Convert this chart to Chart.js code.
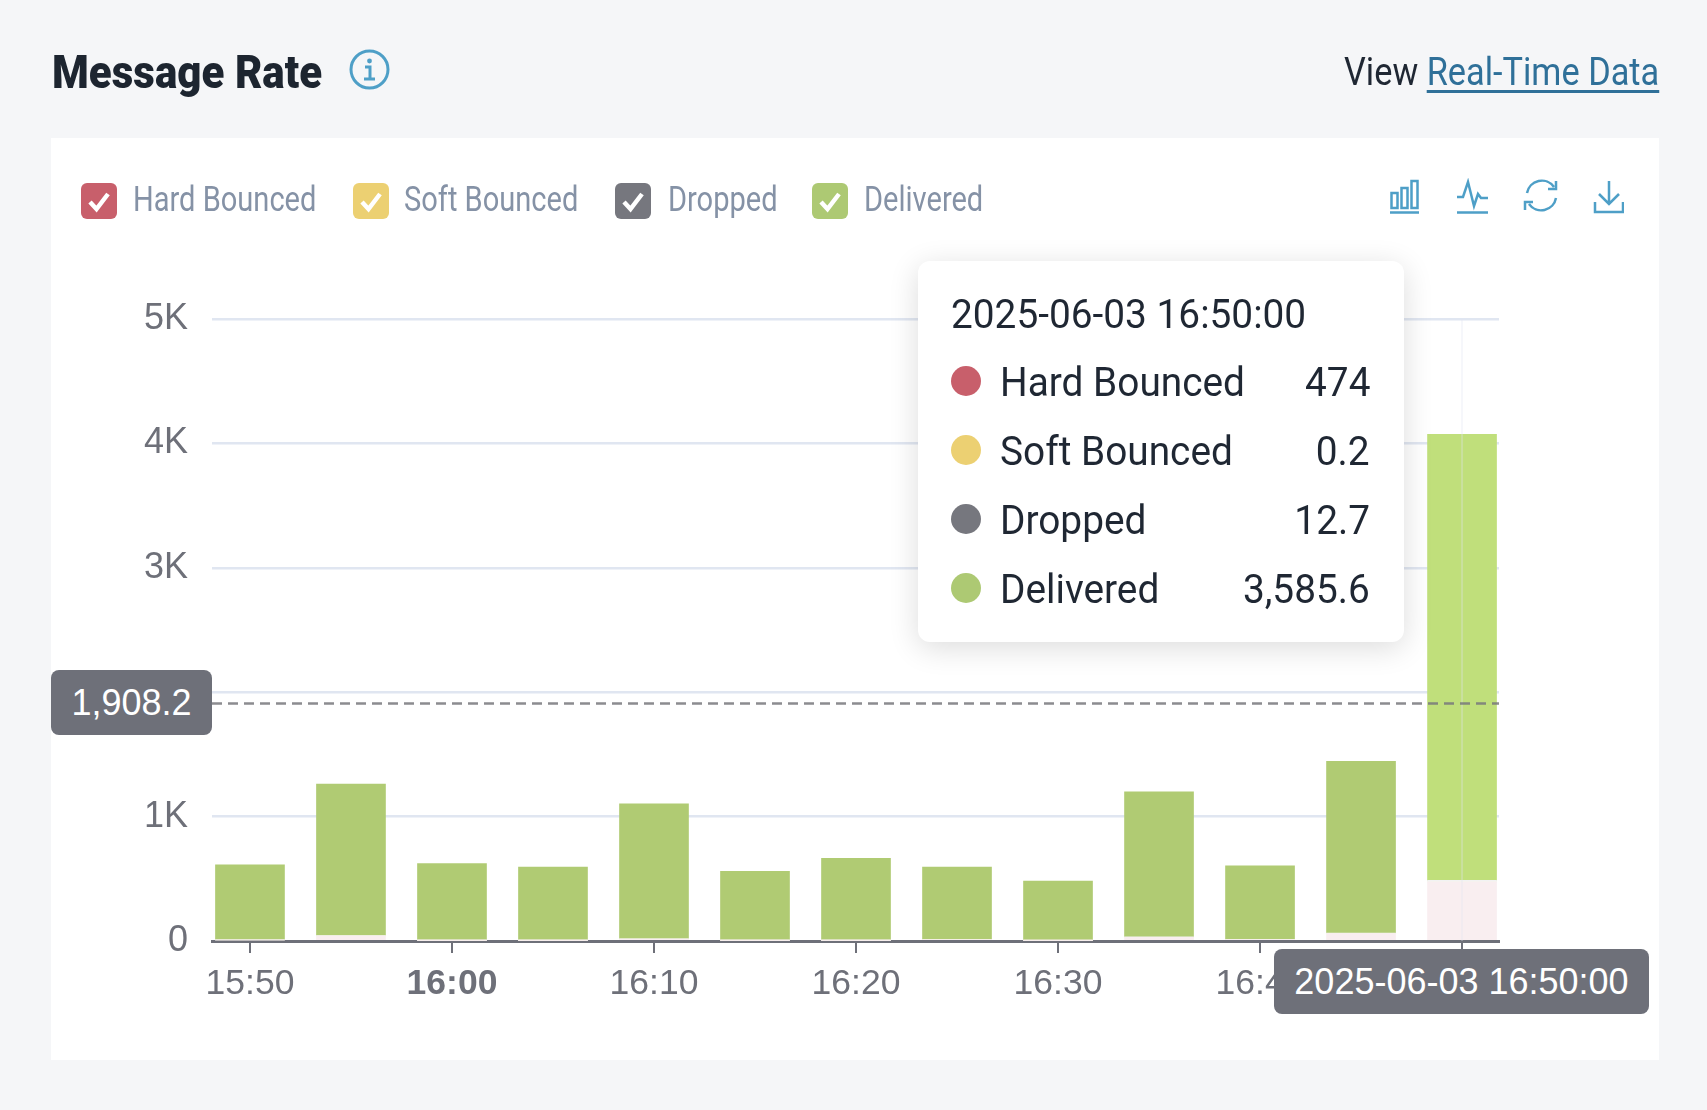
<!DOCTYPE html>
<html>
<head>
<meta charset="utf-8">
<title>Message Rate</title>
<script src="https://cdn.jsdelivr.net/npm/chart.js@4/dist/chart.umd.min.js"></script>
<style>
    html, body { margin: 0; padding: 0; background: #f5f6f8; }
    body { width: 1707px; height: 1110px; position: relative; overflow: hidden; font-family: Roboto, sans-serif; }
    .abs { position: absolute; white-space: nowrap; }
    #card { left: 51px; top: 138px; width: 1608px; height: 922px; background: #fff; }
    #grafica { position: absolute; left: 0; top: 0; }
    #title { left: 52px; top: 43px; font-size: 47px; line-height: 58px; font-weight: 900; color: #1d2530; transform: scaleX(.895); transform-origin: left top; }
    #view { right: 48px; top: 47px; font-size: 39px; line-height: 50px; color: #1f2733; transform: scaleX(.88); transform-origin: right top; }
    #view a { color: #2f7099; text-decoration: underline; text-underline-offset: 5px; text-decoration-thickness: 3px; }
    .box { width: 36px; height: 36px; top: 183px; border-radius: 6px; }
    .lbl { top: 178px; font-size: 35px; line-height: 44px; color: #8592a6; transform: scaleX(.83); transform-origin: left top; }
    .pill { background: #6e7079; color: #fff; border-radius: 8px; font: 36px "Liberation Sans", sans-serif; text-align: center; }
    #tooltip { left: 918px; top: 261px; width: 486px; height: 381px; background: #fff; border-radius: 12px; box-shadow: 0 6px 30px rgba(0,0,0,.14); color: #1f2733; font-size: 40px; }
    #tooltip .abs { line-height: 48px; }
    .dot { width: 30px; height: 30px; border-radius: 50%; left: 33px; }
    .nom { transform: scaleX(.97); transform-origin: left top; }
    .val { transform: scaleX(.97); transform-origin: right top; }
</style>
</head>
<body>
<div class="abs" id="card"></div>
<canvas id="grafica" width="1707" height="1110"></canvas>

<div class="abs" id="title">Message Rate</div>
<svg class="abs" style="left:349px;top:49px" width="41" height="41" viewBox="0 0 41 41" fill="none" stroke="#4e9fc7">
    <circle cx="20.5" cy="20.5" r="18.5" stroke-width="3"/>
    <circle cx="20.5" cy="12" r="2.4" fill="#4e9fc7" stroke="none"/>
    <path d="M16 18h5v11M15 30h11" stroke-width="3"/>
</svg>
<div class="abs" id="view">View <a href="#">Real-Time Data</a></div>

<div id="legend"></div>

<svg class="abs" style="left:1390px;top:178px" width="234" height="36" viewBox="0 0 234 36" fill="none" stroke="#4e9fc7" stroke-width="2.5">
    <path d="M0 34.500h29M1.500 15h6v15h-6zM11.500 10h6v20h-6zM21.500 3h6v27h-6z"/>
    <path d="M67 34.500h31M67 19h6l5-15 6 24 4-12 3 4h7"/>
    <path d="M137 15a15 15 0 0 1 27-6M166 20a15 15 0 0 1-27 6M166 3v8h-8M135 32v-8h8"/>
    <path d="M219 3v23M209 16l10 10 10-10M205 24v10h28V24"/>
</svg>

<div class="abs" id="tooltip"></div>

<div class="abs pill" id="pillY" style="left:51px;top:670px;width:161px;height:65px;line-height:65px"></div>
<div class="abs pill" id="pillX" style="left:1274px;top:949px;width:375px;height:65px;line-height:65px"></div>

<script>
    const categorias = ['15:50','15:55','16:00','16:05','16:10','16:15','16:20','16:25','16:30','16:35','16:40','16:45','16:50'];
    const series = ['Hard Bounced', 'Soft Bounced', 'Dropped', 'Delivered'];
    const hardBounced = [8, 40, 5, 5, 15, 5, 5, 10, 5, 30, 12, 60, 474];
    const softBounced = [0.1, 0.1, 0.1, 0.1, 0.1, 0.1, 0.1, 0.1, 0.1, 0.1, 0.1, 0.1, 0.2];
    const dropped = [2, 4, 2, 2, 3, 2, 2, 2, 1, 3, 2, 4, 12.7];
    const delivered = [603, 1217, 615, 588, 1085, 553, 658, 583, 475, 1167, 590, 1381, 3585.6];
    const yTicks = ['0', '1K', '2K', '3K', '4K', '5K'];
    const yMax = 5000;
    const punteroY = 1908.2;
    const fechaActiva = '2025-06-03 16:50:00';
    const activo = 12;

    const coloresLeyenda = ['#c85f6b', '#ecd072', '#76777e', '#adc973'];
    const leyendaPos = [[81, 133], [353, 404], [615, 668], [812, 864]];

    const formato = new Intl.NumberFormat('en-US', { maximumFractionDigits: 1 });

    // leyenda
    const leyenda = document.getElementById('legend');
    series.forEach((nombre, i) => {
        leyenda.innerHTML +=
            `<div class="abs box" style="left:${leyendaPos[i][0]}px;background:${coloresLeyenda[i]}">` +
            `<svg width="36" height="36" viewBox="0 0 36 36" fill="none" stroke="#fff" stroke-width="4.5"><path d="M9 19l6.500 7L27 11"/></svg></div>` +
            `<div class="abs lbl" style="left:${leyendaPos[i][1]}px">${nombre}</div>`;
    });

    // tooltip fijo del punto activo
    const tooltip = document.getElementById('tooltip');
    const valoresActivos = [hardBounced, softBounced, dropped, delivered].map(s => s[activo]);
    tooltip.innerHTML = `<div class="abs" style="left:33px;top:30px;transform:scaleX(.97);transform-origin:left top">${fechaActiva}</div>`;
    series.forEach((nombre, i) => {
        const top = 98 + i * 69;
        tooltip.innerHTML +=
            `<div class="abs dot" style="top:${top + 7}px;background:${coloresLeyenda[i]}"></div>` +
            `<div class="abs nom" style="left:82px;top:${top}px">${nombre}</div>` +
            `<div class="abs val" style="right:34px;top:${top}px">${formato.format(valoresActivos[i])}</div>`;
    });

    document.getElementById('pillY').textContent = formato.format(punteroY);
    document.getElementById('pillX').textContent = fechaActiva;

    const puntos = lista => lista.map((v, i) => ({ x: i, y: v }));

    // lineas del puntero
    const puntero = {
        id: 'puntero',
        afterDatasetsDraw(chart) {
            const { ctx, chartArea, scales } = chart;
            const y = scales.y.getPixelForValue(punteroY);
            const x = scales.x.getPixelForValue(activo);
            ctx.save();
            ctx.strokeStyle = 'rgba(224,230,241,0.3)';
            ctx.lineWidth = 2;
            ctx.beginPath();
            ctx.moveTo(x, chartArea.top);
            ctx.lineTo(x, chartArea.bottom);
            ctx.stroke();
            ctx.strokeStyle = 'rgba(120,120,124,0.85)';
            ctx.lineWidth = 2.5;
            ctx.setLineDash([10, 6]);
            ctx.beginPath();
            ctx.moveTo(chartArea.left, y);
            ctx.lineTo(chartArea.right, y);
            ctx.stroke();
            ctx.restore();
        }
    };

    new Chart(document.getElementById('grafica'), {
        type: 'bar',
        plugins: [puntero],
        data: {
            datasets: [
                { label: series[0], data: puntos(hardBounced), backgroundColor: '#f9eef0' },
                { label: series[1], data: puntos(softBounced), backgroundColor: '#fbf6e4' },
                { label: series[2], data: puntos(dropped), backgroundColor: '#f2f2f3' },
                {
                    label: series[3],
                    data: puntos(delivered),
                    backgroundColor: ctx => ctx.dataIndex === activo ? '#c0df7b' : '#b0cb73'
                }
            ]
        },
        options: {
            responsive: false,
            animation: false,
            devicePixelRatio: 1,
            layout: { padding: { top: 319, right: 208, left: 0, bottom: 0 } },
            datasets: { bar: { barThickness: 69 } },
            plugins: { legend: { display: false }, tooltip: { enabled: false } },
            scales: {
                x: {
                    type: 'linear',
                    stacked: true,
                    offset: false,
                    min: -0.376,
                    max: 12.366,
                    afterBuildTicks(axis) {
                        axis.ticks = categorias.map((c, i) => ({ value: i })).filter(t => t.value % 2 === 0);
                    },
                    afterFit(axis) { axis.height = 169; },
                    border: { display: true, color: '#6e7079', width: 3 },
                    grid: { offset: false, drawOnChartArea: false, drawTicks: true, tickLength: 12, color: '#6e7079', tickWidth: 2, lineWidth: 2 },
                    ticks: {
                        autoSkip: false,
                        maxRotation: 0,
                        padding: 10,
                        color: '#6e7079',
                        font: ctx => ({
                            family: '"Liberation Sans"',
                            size: 35.5,
                            weight: ctx.tick && categorias[ctx.tick.value] === '16:00' ? 'bold' : 'normal'
                        }),
                        callback: v => categorias[v]
                    }
                },
                y: {
                    stacked: true,
                    min: 0,
                    max: yMax,
                    afterFit(axis) { axis.width = 212; },
                    border: { display: false },
                    grid: { color: '#e0e6f1', lineWidth: 2.5, drawTicks: false },
                    ticks: {
                        stepSize: 1000,
                        padding: 24,
                        color: '#6e7079',
                        font: { family: '"Liberation Sans"', size: 36 },
                        callback: v => yTicks[v / 1000]
                    }
                }
            }
        }
    });
</script>
</body>
</html>
